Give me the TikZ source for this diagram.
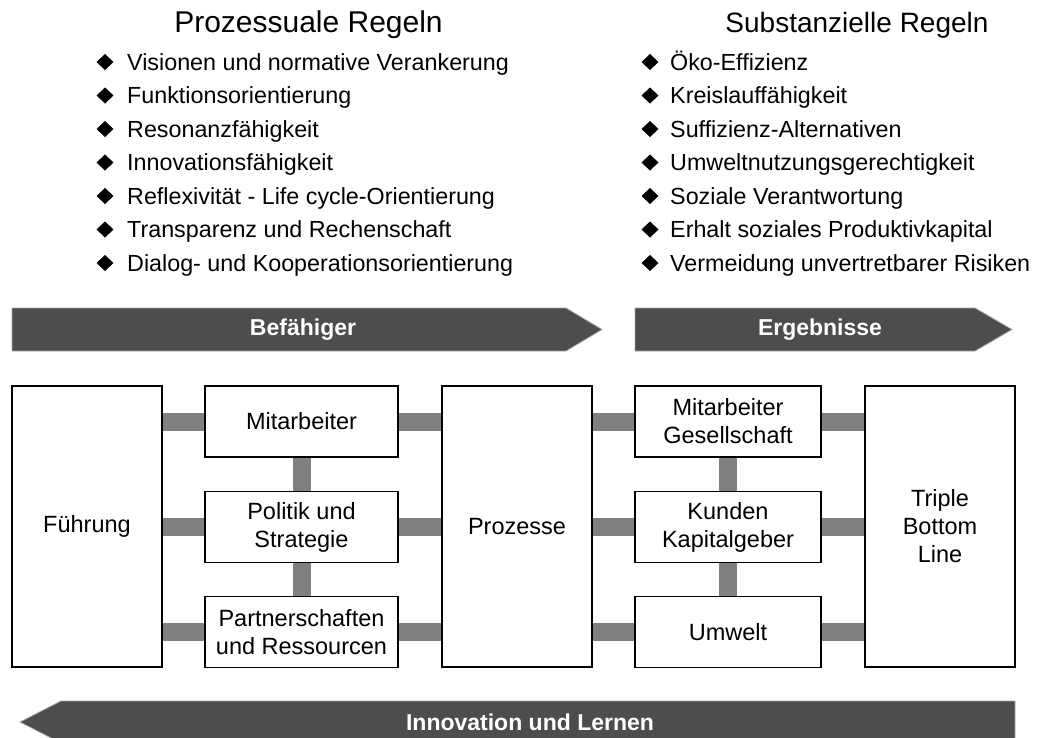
\documentclass[tikz,border=0pt]{standalone}
\usepackage{fontspec}
\setmainfont{Liberation Sans}
\usetikzlibrary{backgrounds}
\definecolor{bandfill}{HTML}{4D4D4D}
\definecolor{bandedge}{HTML}{A6A6A6}
\definecolor{linkgray}{HTML}{808080}
\begin{document}
\begin{tikzpicture}[x=1pt,y=-1pt,
  box/.style={draw=black,line width=1.2pt,fill=white,inner sep=0pt,align=center,
    font=\fontsize{23.5}{28}\selectfont},
  tall/.style={box,minimum width=150pt,minimum height=281pt},
  leftbox/.style={box,minimum width=193pt,minimum height=71pt},
  rightbox/.style={box,minimum width=186pt,minimum height=71pt},
  link/.style={draw=linkgray,line width=18pt},
  band/.style={fill=bandfill,draw=bandedge,line width=0.8pt},
  bandlabel/.style={text=white,font=\bfseries\fontsize{23}{28}\selectfont,inner sep=0pt},
  heading/.style={inner sep=0pt,anchor=base},
  item/.style={font=\fontsize{23.3}{28}\selectfont,inner sep=0pt,anchor=base west},
  bullet/.style={fill=black}
]
\useasboundingbox (0,0) rectangle (1043,737);

% rule lists
\node[heading,font=\fontsize{30}{36}\selectfont] (hproc) at (308.5,32) {Prozessuale Regeln};
\node[heading,font=\fontsize{28}{34}\selectfont] (hsub) at (857,32) {Substanzielle Regeln};
\foreach \t [count=\i from 0] in {Visionen und normative Verankerung,
    Funktionsorientierung, Resonanzfähigkeit, Innovationsfähigkeit,
    Reflexivität - Life cycle-Orientierung, Transparenz und Rechenschaft,
    Dialog- und Kooperationsorientierung} {
  \node[item] (proc\i) at (127,{70+33.5*\i}) {\t};
  \fill[bullet] (105,{62+33.5*\i}) +(-8.5,0) -- +(0,-8) -- +(8.5,0) -- +(0,8) -- cycle;
}
\foreach \t [count=\i from 0] in {Öko-Effizienz, Kreislauffähigkeit,
    Suffizienz-Alternativen, Umweltnutzungsgerechtigkeit, Soziale Verantwortung,
    Erhalt soziales Produktivkapital, Vermeidung unvertretbarer Risiken} {
  \node[item] (sub\i) at (670,{70+33.5*\i}) {\t};
  \fill[bullet] (650,{62+33.5*\i}) +(-8.5,0) -- +(0,-8) -- +(8.5,0) -- +(0,8) -- cycle;
}

% arrow bands
\draw[band] (12,308) -- (566,308) -- (602,329.5) -- (566,351) -- (12,351) -- cycle;
\node[bandlabel] (enab) at (303,330) {Befähiger};
\draw[band] (635,308) -- (975,308) -- (1012,329.5) -- (975,351) -- (635,351) -- cycle;
\node[bandlabel] (res) at (820,330) {Ergebnisse};
\draw[band] (1015,701) -- (61,701) -- (20,722) -- (61,743) -- (1015,743) -- cycle;
\node[bandlabel] (innov) at (530,722) {Innovation und Lernen};

% model boxes
\node[tall] (fu) at (87,526.5) {Führung};
\node[leftbox] (m1) at (301.5,421.5) {Mitarbeiter};
\node[leftbox] (m2) at (301.5,527) {Politik und\\Strategie};
\node[leftbox] (m3) at (301.5,632) {Partnerschaften\\und Ressourcen};
\node[tall] (pr) at (517,526.5) {Prozesse};
\node[rightbox] (r1) at (728,421.5) {Mitarbeiter\\Gesellschaft};
\node[rightbox] (r2) at (728,527) {Kunden\\Kapitalgeber};
\node[rightbox] (r3) at (728,632) {Umwelt};
\node[tall] (tb) at (940,526.5) {Triple\\Bottom\\Line};

% connecting bars
\begin{scope}[on background layer]
  \foreach \b in {m1,m2,m3} {
    \draw[link] (fu.east |- \b.west) -- (\b.west);
    \draw[link] (\b.east) -- (pr.west |- \b.east);
  }
  \foreach \b in {r1,r2,r3} {
    \draw[link] (pr.east |- \b.west) -- (\b.west);
    \draw[link] (\b.east) -- (tb.west |- \b.east);
  }
  \draw[link] (m1.south) -- (m2.north);
  \draw[link] (m2.south) -- (m3.north);
  \draw[link] (r1.south) -- (r2.north);
  \draw[link] (r2.south) -- (r3.north);
\end{scope}
\end{tikzpicture}
\end{document}
